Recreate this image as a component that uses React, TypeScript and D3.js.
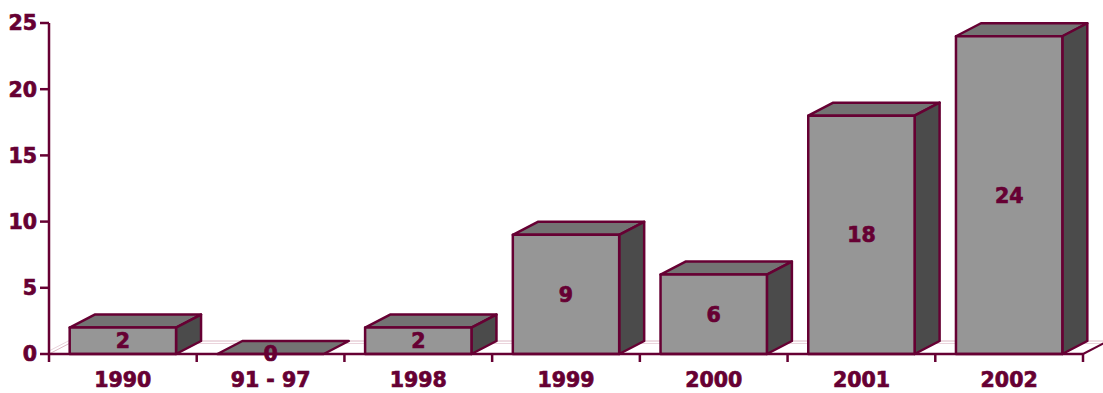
import React from "react";
import * as d3 from "d3";

const categories = ["1990", "91 - 97", "1998", "1999", "2000", "2001", "2002"];
const values = [2, 0, 2, 9, 6, 18, 24];
const yTicks = [0, 5, 10, 15, 20, 25];

const W = 1103;
const H = 393;
const DX = 25;
const DY = -13;
const MAROON = "#660033";
const FRONT = "#969696";
const TOP = "#737373";
const SIDE = "#4b4b4b";
const FONT = "'DejaVu Sans', Verdana, sans-serif";

const textProps = {
  fontFamily: FONT,
  fontWeight: "bold" as const,
  fontSize: 20.5,
  fill: MAROON,
  stroke: MAROON,
  strokeWidth: 0.7,
};

export default function App() {
  const x = d3.scaleBand<string>().domain(categories).range([49, 1083]).paddingInner(0.28).paddingOuter(0.14);
  const y = d3.scaleLinear().domain([0, 25]).range([354, 23]);
  const bw = x.bandwidth();
  const y0 = y(0);
  const step = x.step();
  const tickXs = d3.range(categories.length + 1).map((i) => 49 + i * step);

  return (
    <svg width={W} height={H} style={{ position: "absolute", left: 0, top: 0 }}>
      <rect width={W} height={H} fill="#ffffff" />
      {/* floor */}
      <line x1={49} y1={y0} x2={49 + DX} y2={y0 + DY} stroke="#dcb8c4" strokeWidth={1} />
      <line x1={49} y1={y0 - 3} x2={49 + DX} y2={y0 + DY - 3} stroke="#ead4dc" strokeWidth={1} />
      <line x1={49 + DX} y1={y0 + DY} x2={1083 + DX} y2={y0 + DY} stroke="#dcb8c4" strokeWidth={1} />
      <line x1={49 + DX} y1={y0 + DY + 2.5} x2={1083 + DX} y2={y0 + DY + 2.5} stroke="#ead4dc" strokeWidth={1} />
      <line x1={1083} y1={y0} x2={1083 + DX} y2={y0 + DY} stroke={MAROON} strokeWidth={2} />
      {/* bars */}
      {categories.map((c, i) => {
        const x0 = x(c)!;
        const x1 = x0 + bw;
        const yt = y(values[i]);
        const top = `M${x0},${yt}L${x0 + DX},${yt + DY}L${x1 + DX},${yt + DY}L${x1},${yt}Z`;
        const side = `M${x1},${yt}L${x1 + DX},${yt + DY}L${x1 + DX},${y0 + DY}L${x1},${y0}Z`;
        return (
          <g key={c} stroke={MAROON} strokeWidth={2.5} strokeLinejoin="round">
            <path d={top} fill={TOP} />
            {values[i] > 0 && <path d={side} fill={SIDE} />}
            {values[i] > 0 && <rect x={x0} y={yt} width={bw} height={y0 - yt} fill={FRONT} />}
          </g>
        );
      })}
      {/* axes */}
      <line x1={49} y1={23} x2={49} y2={y0} stroke={MAROON} strokeWidth={2.5} />
      <line x1={49} y1={y0} x2={1083} y2={y0} stroke={MAROON} strokeWidth={2.5} />
      {yTicks.map((t) => (
        <g key={t}>
          <line x1={40} x2={49} y1={y(t)} y2={y(t)} stroke={MAROON} strokeWidth={2.5} />
          <text x={37} y={y(t)} dy="0.36em" textAnchor="end" {...textProps}>
            {t}
          </text>
        </g>
      ))}
      {tickXs.map((tx, i) => (
        <line key={i} x1={tx} x2={tx} y1={y0} y2={y0 + 8} stroke={MAROON} strokeWidth={2.5} />
      ))}
      {categories.map((c) => (
        <text key={c} x={x(c)! + bw / 2} y={386.5} textAnchor="middle" {...textProps}>
          {c}
        </text>
      ))}
      {/* value labels */}
      {categories.map((c, i) => (
        <text key={c} x={x(c)! + bw / 2} y={(y(values[i]) + y0) / 2} dy="0.36em" textAnchor="middle" {...textProps}>
          {values[i]}
        </text>
      ))}
    </svg>
  );
}
